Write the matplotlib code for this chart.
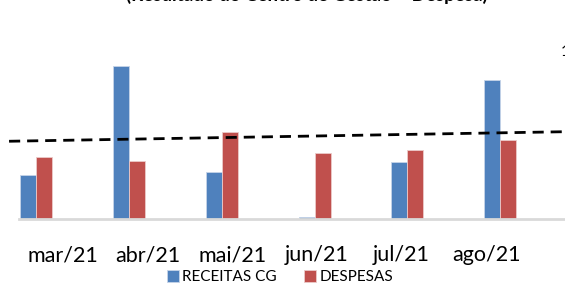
import numpy as np
import matplotlib
matplotlib.use('Agg')
import matplotlib.pyplot as plt

plt.rcParams['font.family'] = ['Lato', 'DejaVu Sans']

meses = ['mar/21', 'abr/21', 'mai/21', 'jun/21', 'jul/21', 'ago/21']
receitas = [44, 153, 47, 2.5, 57, 139]
despesas = [62, 58, 87, 66, 69, 79]
tendencia = [0.469, 0.479, 0.488, 0.498, 0.507, 0.517]

fig = plt.figure(figsize=(5.65, 2.86), dpi=100)
ax = fig.add_axes([19 / 565, 67 / 286, 557 / 565, 174 / 286])

x = np.arange(len(meses))
w = 0.172
ax.bar(x - w, receitas, w, color='#4f81bd', edgecolor='#c6d4e8', linewidth=0.6, label='RECEITAS CG')
ax.bar(x, despesas, w, color='#c0504d', edgecolor='#eccaca', linewidth=0.6, label='DESPESAS')

ax.set_xlim(-0.27, 5.73)
ax.set_ylim(0, 174)
ax.set_yticks([])
for s in ['top', 'left', 'right']:
    ax.spines[s].set_visible(False)
ax.spines['bottom'].set_color('#d9d9d9')
ax.spines['bottom'].set_linewidth(2)

# rotulos levemente deslocados como no original
ax.set_xticks(np.arange(6) * 0.913 + 0.2)
ax.set_xticklabels(meses, fontsize=15.5)
ax.tick_params(axis='x', length=0, pad=19)

ax2 = ax.twinx()
ax2.set_ylim(0, 174 / 167)
coef = np.polyfit(x, tendencia, 1)
xt = np.array([-0.377, 5.8])
ax2.plot(xt, np.polyval(coef, xt), color='black', linestyle=(0, (4, 2.5)), linewidth=2, clip_on=False)
ax2.set_yticks([])
for s in ['top', 'left', 'right', 'bottom']:
    ax2.spines[s].set_visible(False)
fig.text(561 / 565, (286 - 52) / 286, '1', fontsize=11, va='center', ha='left')

fig.text(307 / 565, (286 - 0.5) / 286, '(Resultado do Centro de Gestão – Despesa)', fontsize=13.5,
         fontweight='bold', ha='center', va='baseline')

ax.legend(loc='lower center', bbox_to_anchor=(261 / 557, -67 / 174), ncol=2, frameon=False,
          fontsize=11, handlelength=0.8, handleheight=0.8, handletextpad=0.2, columnspacing=1.8,
          borderaxespad=0, borderpad=0.1)

fig.savefig('out.png', dpi=100)
